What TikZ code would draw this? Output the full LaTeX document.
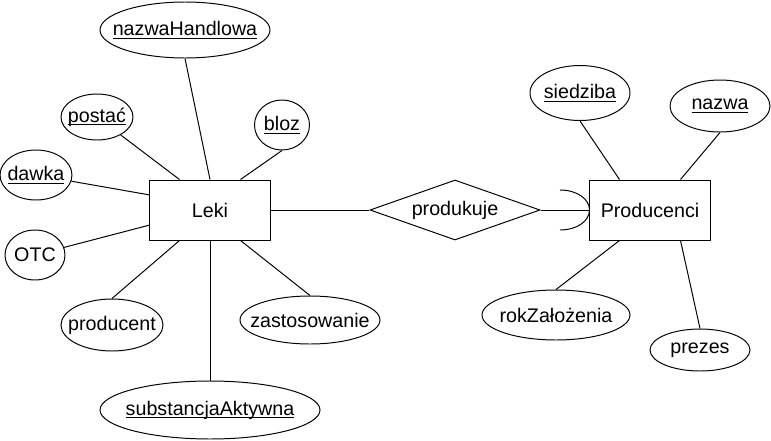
\documentclass[tikz,border=0pt]{standalone}
\usepackage{fontspec}
\setmainfont{Liberation Sans}
\usetikzlibrary{shapes.geometric}

\newcommand{\keyattr}[1]{\setbox0\hbox{#1}\rlap{\rule[-2pt]{\wd0}{0.7pt}}\box0}
\newcommand{\lbl}[1]{\makebox[0pt]{#1}}

\begin{document}
\begin{tikzpicture}[
		x=0.025cm, y=-0.025cm,
		line width=0.7pt,
		every node/.style={font=\fontsize{14}{17}\selectfont},
		entity/.style={draw, rectangle, minimum width=3cm, minimum height=1.5cm, inner sep=0pt},
		attr/.style 2 args={draw, ellipse, minimum width=#1*0.025cm, minimum height=#2*0.025cm, inner sep=0pt},
		relation/.style={draw, diamond, aspect=2.83, minimum width=4.25cm, minimum height=1.5cm, inner sep=0pt}
		]
		\useasboundingbox (0,0) rectangle (771,441);
		
		% Draw Entities and Relation
		\node[entity] (leki) at (210,210) {Leki};
		\node[entity] (producenci) at (650,210) {Producenci};
		\node[relation] (produkuje) at (455,210) {\lbl{produkuje}};
		
		% Draw Attributes of Leki
		\node[attr={170}{56}] (nazwahandlowa) at (185,30) {\lbl{\keyattr{nazwaHandlowa}}};
		\node[attr={72}{46}] (postac) at (97,117) {\lbl{\keyattr{postać}}};
		\node[attr={55}{50}] (bloz) at (282,125) {\lbl{\keyattr{bloz}}};
		\node[attr={72}{50}] (dawka) at (36,175) {\lbl{\keyattr{dawka}}};
		\node[attr={60}{50}] (otc) at (35,255) {\lbl{OTC}};
		\node[attr={102}{52}] (producent) at (112,325) {\lbl{producent}};
		\node[attr={140}{48}] (zastosowanie) at (310,320) {\lbl{zastosowanie}};
		\node[attr={220}{58}] (substancja) at (210,410) {\lbl{\keyattr{substancjaAktywna}}};
		
		% Draw Attributes of Producenci
		\node[attr={100}{55}] (siedziba) at (580,93) {\lbl{\keyattr{siedziba}}};
		\node[attr={100}{52}] (nazwa) at (720,106) {\lbl{\keyattr{nazwa}}};
		\node[attr={148}{50}] (rok) at (556,315) {\lbl{rokZałożenia}};
		\node[attr={100}{42}] (prezes) at (700,350) {\lbl{prezes}};
		
		% Connect Attributes
		\foreach \a/\b in {90/nazwahandlowa.south, 135/postac, 45/bloz.south, 166/dawka, 194/otc, 225/producent.north, 270/substancja.north, 315/zastosowanie.north} {
			\draw (leki.\a) -- (\b);
		}
		\foreach \a/\b in {135/siedziba.south, 45/nazwa.south, 225/rok.north, 315/prezes.north} {
			\draw (producenci.\a) -- (\b);
		}
		
		% Connect Relation
		\draw (leki) -- (produkuje);
		\draw (produkuje) -- (producenci);
		\coordinate (arctop) at (560,190);
		\coordinate (arcbot) at (560,230);
		\draw (arctop) .. controls +(17,0) and +(0,-11) .. (producenci.west)
			.. controls +(0,11) and +(17,0) .. (arcbot);
		
	\end{tikzpicture}
\end{document}
